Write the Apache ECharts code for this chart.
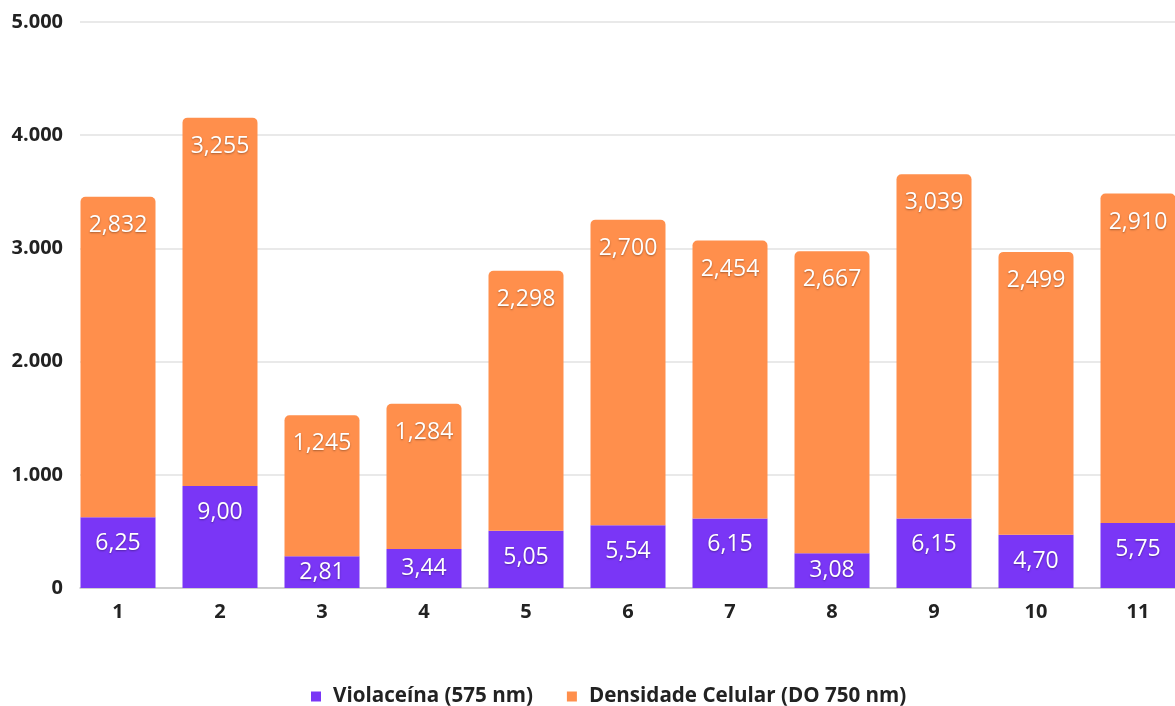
<!DOCTYPE html>
<html>
<head>
<meta charset="utf-8">
<title>Violaceína x Densidade Celular</title>
<script src="https://cdn.jsdelivr.net/npm/echarts@6/dist/echarts.min.js"></script>
<style>
  html, body { margin: 0; padding: 0; background: #fff; }
  #main { width: 1175px; height: 706px; }
</style>
</head>
<body>
<div id="main"></div>
<script>
// categorias (amostras)
var categorias = ["1", "2", "3", "4", "5", "6", "7", "8", "9", "10", "11"];
// valores mostrados nos rótulos
var violaceina = [6.25, 9.00, 2.81, 3.44, 5.05, 5.54, 6.15, 3.08, 6.15, 4.70, 5.75];
var densidade = [2.832, 3.255, 1.245, 1.284, 2.298, 2.700, 2.454, 2.667, 3.039, 2.499, 2.910];
// fator de escala de cada série no eixo
var escalaViolaceina = 100;
var escalaDensidade = 1000;
// eixo Y
var yTicks = [0, 1000, 2000, 3000, 4000, 5000];

var fonte = "'Open Sans', 'Noto Sans', sans-serif";
var roxo = "#7A36F6";
var laranja = "#FF8F4C";

var chart = echarts.init(document.getElementById("main"));

function virgula(v, casas) {
  return v.toFixed(casas).replace(".", ",");
}

var rotulo = {
  show: true,
  position: "insideTop",
  color: "#fff",
  fontFamily: fonte,
  fontSize: 23,
  textShadowColor: "rgba(0,0,0,0.35)",
  textShadowBlur: 2,
  textShadowOffsetY: 1
};

// barras roxas baixas: rótulo no centro da barra
var dadosViolaceina = violaceina.map(function (v) {
  var item = { value: Math.round(v * escalaViolaceina) };
  if (v < 4.5) item.label = { position: "inside" };
  return item;
});

var option = {
  animation: false,
  textStyle: { fontFamily: fonte },
  // grade 0: barras e rótulos; grade 1: só linhas de grade e eixo base
  grid: [
    { left: 67, width: 1122, top: 22, bottom: 118, outerBoundsMode: "none" },
    { left: 80, right: 0, top: 22, bottom: 118, outerBoundsMode: "none" }
  ],
  legend: {
    top: 681,
    left: 306,
    icon: "rect",
    itemWidth: 10,
    itemHeight: 10,
    itemGap: 34,
    textStyle: {
      fontFamily: fonte,
      fontSize: 20.6,
      fontWeight: "bold",
      color: "#222",
      padding: [0, 0, 0, 7]
    },
    data: ["Violaceína (575 nm)", "Densidade Celular (DO 750 nm)"]
  },
  xAxis: [
    {
      type: "category",
      gridIndex: 0,
      data: categorias,
      axisLine: { show: false },
      axisTick: { show: false },
      axisLabel: {
        margin: 14,
        fontFamily: fonte,
        fontSize: 20,
        fontWeight: "bold",
        color: "#222"
      }
    },
    {
      type: "category",
      gridIndex: 1,
      data: categorias,
      axisLine: { show: true, lineStyle: { color: "#c6c6c6", width: 1.5 } },
      axisTick: { show: false },
      axisLabel: { show: false }
    }
  ],
  yAxis: [
    {
      type: "value",
      gridIndex: 0,
      min: yTicks[0],
      max: yTicks[yTicks.length - 1],
      interval: yTicks[1] - yTicks[0],
      splitLine: { show: false },
      axisLine: { show: false },
      axisTick: { show: false },
      axisLabel: {
        margin: 4,
        fontFamily: fonte,
        fontSize: 20,
        fontWeight: "bold",
        color: "#222",
        formatter: function (v) {
          return v === 0 ? "0" : (v / 1000) + ".000";
        }
      }
    },
    {
      type: "value",
      gridIndex: 1,
      min: yTicks[0],
      max: yTicks[yTicks.length - 1],
      interval: yTicks[1] - yTicks[0],
      axisLine: { show: false },
      axisTick: { show: false },
      axisLabel: { show: false },
      splitLine: { show: true, lineStyle: { color: "#e2e2e2", width: 1.5 } }
    }
  ],
  series: [
    {
      name: "Violaceína (575 nm)",
      type: "bar",
      stack: "total",
      barWidth: 75,
      itemStyle: { color: roxo },
      label: Object.assign({}, rotulo, {
        distance: 15,
        formatter: function (p) { return virgula(p.value / escalaViolaceina, 2); }
      }),
      data: dadosViolaceina
    },
    {
      name: "Densidade Celular (DO 750 nm)",
      type: "bar",
      stack: "total",
      barWidth: 75,
      itemStyle: { color: laranja, borderRadius: [5, 5, 0, 0] },
      label: Object.assign({}, rotulo, {
        distance: 17,
        formatter: function (p) { return virgula(p.value / escalaDensidade, 3); }
      }),
      data: densidade.map(function (v) { return Math.round(v * escalaDensidade); })
    }
  ]
};

chart.setOption(option);
</script>
</body>
</html>
